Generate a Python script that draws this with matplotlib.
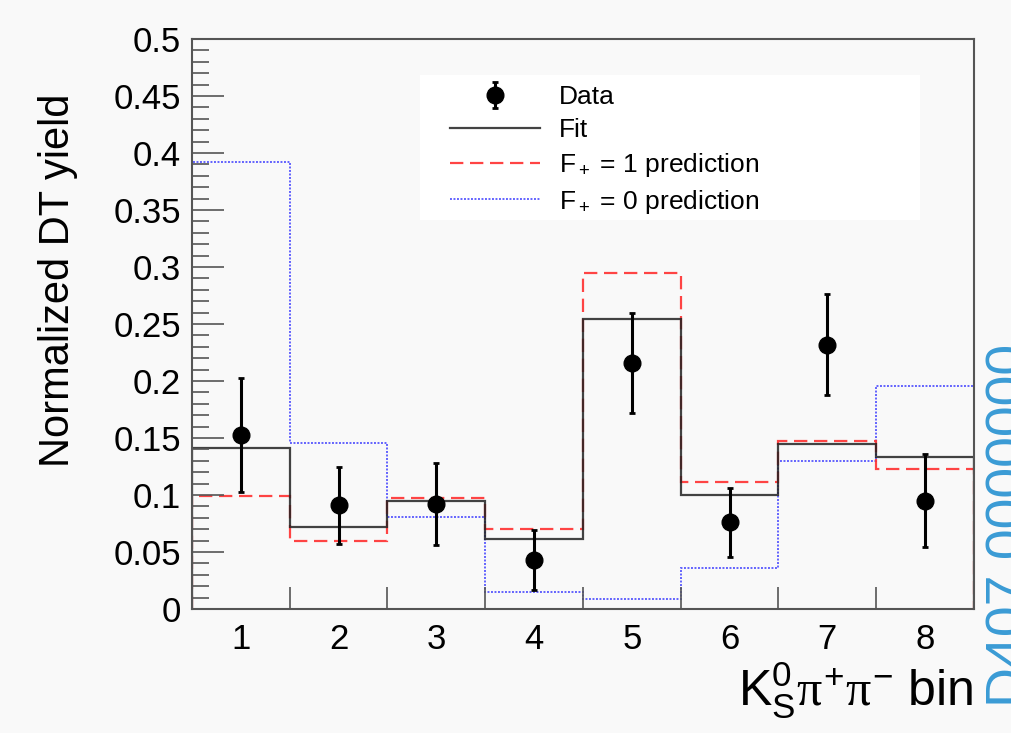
import numpy as np
import matplotlib
matplotlib.use("Agg")
import matplotlib.pyplot as plt
from matplotlib.lines import Line2D
from matplotlib.patches import Rectangle

plt.rcParams['font.family'] = ['Liberation Sans', 'DejaVu Sans']
plt.rcParams['mathtext.fontset'] = 'custom'
plt.rcParams['mathtext.rm'] = 'Liberation Sans'
plt.rcParams['mathtext.it'] = 'Liberation Serif'
plt.rcParams['mathtext.bf'] = 'Liberation Sans:bold'

# bins of K0S pi+ pi-
bins = np.arange(1, 9)
edges = np.arange(0.5, 9.0, 1.0)

data_y = [0.153, 0.091, 0.092, 0.043, 0.216, 0.076, 0.232, 0.095]
data_err = [0.050, 0.034, 0.036, 0.026, 0.044, 0.030, 0.044, 0.041]
fit = [0.1415, 0.072, 0.095, 0.061, 0.254, 0.100, 0.145, 0.1335]
pred_f1 = [0.099, 0.060, 0.097, 0.070, 0.295, 0.111, 0.147, 0.123]
pred_f0 = [0.392, 0.146, 0.081, 0.015, 0.009, 0.036, 0.130, 0.196]

bg = '#f9f9f9'
fig = plt.figure(figsize=(10.12, 7.33), dpi=100, facecolor=bg)
ax = fig.add_axes([192/1012, 1-609/733, (974-192)/1012, (609-39)/733])
ax.set_facecolor(bg)

f0_style = dict(color='#3030ff', lw=1.4, ls=(0, (1, 0.8)), alpha=0.75)
f1_style = dict(color='#ff3030', lw=1.6, ls=(0, (6, 3)), alpha=0.9)
fit_style = dict(color='#222222', lw=1.6, alpha=0.85)

ax.stairs(pred_f0, edges, **f0_style)
ax.stairs(pred_f1, edges, **f1_style)
ax.stairs(fit, edges, **fit_style)
data = ax.errorbar(bins, data_y, yerr=data_err, fmt='o', color='black', ms=12,
                   elinewidth=2.2, capsize=2, capthick=2)

ax.set_xlim(0.5, 8.5)
ax.set_ylim(0, 0.5)

ax.set_yticks(np.arange(0, 0.51, 0.05))
ax.set_yticklabels(['0', '0.05', '0.1', '0.15', '0.2', '0.25', '0.3', '0.35', '0.4', '0.45', '0.5'])
ax.set_yticks(np.arange(0, 0.5, 0.01), minor=True)
ax.tick_params(axis='y', which='major', direction='in', length=23, width=1.2,
               labelsize=25, color='#555555', pad=8)
ax.tick_params(axis='y', which='minor', direction='in', length=12, width=1.2, color='#555555')

ax.set_xticks(edges[1:-1])
ax.set_xticklabels([])
ax.set_xticks(bins, minor=True)
ax.set_xticklabels([str(b) for b in bins], minor=True)
ax.tick_params(axis='x', which='major', direction='in', length=16, width=1.2, color='#555555')
ax.tick_params(axis='x', which='minor', length=0, labelsize=25, pad=10)

for s in ax.spines.values():
    s.set_color('#555555')
    s.set_linewidth(1.5)

fig.text(58/1012, 1-280/733, 'Normalized DT yield', fontsize=30, rotation=90,
         ha='center', va='center')
fig.text(973/1012, 1-690/733, r'$\mathrm{K^0_S}\pi^{+}\pi^{-}$ bin', fontsize=36,
         ha='right', va='center')

# legend box
ax.add_patch(Rectangle(((420-192)/782, (609-220)/570), 500/782, 145/570,
                       transform=ax.transAxes, facecolor='white', edgecolor='none',
                       zorder=4))
handles = [
    data,
    Line2D([], [], **fit_style),
    Line2D([], [], **f1_style),
    Line2D([], [], **f0_style),
]
labels = ['Data', 'Fit', r'$\mathrm{F_+}$ = 1 prediction', r'$\mathrm{F_+}$ = 0 prediction']
leg = ax.legend(handles, labels, loc='upper left',
                bbox_to_anchor=((432-192)/782, (609-67)/570),
                fontsize=19, frameon=False, handlelength=3.4, handletextpad=0.7,
                labelspacing=0.33, borderpad=0.2)
leg.set_zorder(5)

fig.text(1.0, 1-525/733, 'D407 0000000', rotation=90, fontsize=40,
         color='#3a9bd5', ha='center', va='center')

fig.savefig('out.png', dpi=100, facecolor=bg)
